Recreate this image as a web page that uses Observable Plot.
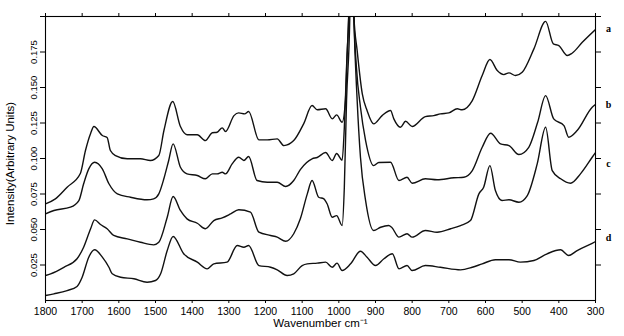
<!DOCTYPE html>
<html>
<head>
<meta charset="utf-8">
<script src="https://cdn.jsdelivr.net/npm/d3@7"></script>
<script src="https://cdn.jsdelivr.net/npm/@observablehq/plot@0.6"></script>
<style>
  html, body { margin: 0; padding: 0; background: #fff; }
  #chart { width: 624px; height: 336px; }
</style>
</head>
<body>
<div id="chart"></div>
<script>
// Spectra: [wavenumber (cm^-1), intensity]
const seriesA = [[1800,0.0681],[1773,0.0716],[1741,0.0798],[1705,0.0894],[1691,0.1056],[1677,0.1176],[1668,0.1225],[1645,0.1162],[1632,0.1148],[1623,0.1056],[1609,0.1021],[1577,0.0998],[1541,0.0998],[1514,0.0986],[1491,0.1021],[1477,0.1197],[1453,0.1401],[1432,0.1225],[1414,0.1167],[1386,0.1167],[1364,0.1126],[1345,0.1181],[1332,0.1185],[1318,0.1216],[1309,0.1190],[1286,0.1302],[1273,0.1321],[1257,0.1314],[1246,0.1331],[1218,0.1131],[1195,0.1131],[1168,0.1138],[1150,0.1091],[1123,0.1126],[1096,0.1244],[1073,0.1373],[1059,0.1343],[1036,0.1350],[1018,0.1279],[1006,0.1307],[991,0.1255],[982,0.1408],[977,0.1760],[973,0.2006],[966,0.30],[959,0.2006],[950,0.1760],[936,0.1455],[923,0.1338],[905,0.1244],[882,0.1302],[859,0.1338],[850,0.1279],[832,0.1220],[818,0.1262],[800,0.1225],[764,0.1295],[741,0.1302],[723,0.1314],[700,0.1321],[677,0.1350],[664,0.1343],[636,0.1408],[609,0.1584],[588,0.1697],[568,0.1619],[550,0.1591],[536,0.1603],[518,0.1584],[500,0.1607],[468,0.1772],[436,0.1966],[415,0.1807],[400,0.1795],[377,0.1725],[364,0.1741],[336,0.1818],[300,0.1908]];
const seriesB = [[1800,0.0610],[1777,0.0634],[1732,0.0657],[1709,0.0704],[1696,0.0822],[1682,0.0927],[1666,0.0974],[1645,0.0927],[1627,0.0822],[1604,0.0751],[1568,0.0727],[1523,0.0709],[1505,0.0716],[1491,0.0751],[1477,0.0859],[1464,0.0986],[1452,0.1103],[1432,0.0938],[1414,0.0892],[1386,0.0880],[1364,0.0857],[1345,0.0892],[1332,0.0892],[1318,0.0903],[1309,0.0892],[1291,0.0962],[1273,0.1009],[1259,0.0986],[1246,0.1014],[1223,0.0845],[1195,0.0833],[1168,0.0833],[1145,0.0803],[1123,0.0845],[1105,0.0922],[1073,0.0998],[1059,0.1007],[1036,0.1042],[1018,0.0986],[1006,0.1035],[991,0.0989],[985,0.1220],[979,0.1642],[973,0.2006],[966,0.30],[959,0.2006],[952,0.1642],[941,0.1361],[927,0.1126],[905,0.0950],[891,0.0972],[859,0.0974],[836,0.0845],[814,0.0868],[800,0.0826],[764,0.0857],[732,0.0850],[686,0.0864],[659,0.0868],[636,0.0915],[609,0.1079],[586,0.1178],[559,0.1103],[536,0.1091],[509,0.1028],[482,0.1079],[458,0.1253],[436,0.1443],[414,0.1279],[386,0.1232],[373,0.1150],[350,0.1197],[309,0.1361],[300,0.1380]];
const seriesC = [[1800,0.0176],[1786,0.0188],[1750,0.0234],[1714,0.0294],[1696,0.0375],[1677,0.0505],[1666,0.0568],[1650,0.0535],[1632,0.0505],[1614,0.0458],[1577,0.0434],[1541,0.0410],[1505,0.0392],[1491,0.0410],[1468,0.0586],[1452,0.0732],[1432,0.0634],[1414,0.0575],[1386,0.0544],[1364,0.0505],[1341,0.0563],[1318,0.0582],[1295,0.0610],[1273,0.0639],[1241,0.0622],[1218,0.0481],[1186,0.0458],[1168,0.0446],[1145,0.0417],[1123,0.0470],[1105,0.0575],[1086,0.0751],[1073,0.0845],[1055,0.0727],[1041,0.0716],[1032,0.0681],[1018,0.0586],[1006,0.0598],[991,0.0528],[985,0.0798],[979,0.1408],[970,0.2006],[966,0.30],[959,0.2006],[950,0.1408],[941,0.1009],[927,0.0704],[905,0.0493],[886,0.0516],[864,0.0528],[856,0.0516],[836,0.0446],[814,0.0470],[800,0.0446],[764,0.0493],[732,0.0481],[695,0.0505],[668,0.0528],[641,0.0563],[618,0.0751],[605,0.0798],[588,0.0950],[573,0.0774],[555,0.0704],[536,0.0709],[509,0.0692],[486,0.0739],[459,0.0962],[436,0.1220],[418,0.0915],[395,0.0857],[368,0.0826],[341,0.0892],[309,0.1009],[300,0.1042]];
const seriesD = [[1800,0.0035],[1777,0.0047],[1741,0.0070],[1714,0.0099],[1700,0.0164],[1682,0.0305],[1666,0.0357],[1645,0.0305],[1627,0.0234],[1618,0.0188],[1595,0.0164],[1559,0.0153],[1523,0.0129],[1500,0.0141],[1486,0.0188],[1468,0.0352],[1452,0.0451],[1423,0.0329],[1386,0.0270],[1359,0.0223],[1341,0.0258],[1305,0.0270],[1277,0.0387],[1259,0.0375],[1246,0.0387],[1218,0.0246],[1186,0.0234],[1168,0.0216],[1141,0.0176],[1123,0.0188],[1100,0.0246],[1086,0.0258],[1059,0.0263],[1036,0.0270],[1018,0.0234],[1005,0.0263],[991,0.0211],[968,0.0258],[941,0.0347],[923,0.0305],[900,0.0246],[877,0.0294],[854,0.0329],[836,0.0223],[814,0.0246],[800,0.0211],[764,0.0246],[723,0.0234],[668,0.0216],[636,0.0234],[609,0.0258],[573,0.0287],[536,0.0287],[505,0.0270],[468,0.0282],[432,0.0329],[395,0.0357],[373,0.0317],[350,0.0352],[309,0.0403],[300,0.0415]];

const seriesNames = ["a", "b", "c", "d"];
const labelIntensity = [0.191, 0.138, 0.096, 0.044];
const xTicks = [1800,1700,1600,1500,1400,1300,1200,1100,1000,900,800,700,600,500,400,300];
const yTickLabels = [0.025,0.050,0.075,0.100,0.125,0.150,0.175];
const yTicksAll = [0.025,0.050,0.075,0.100,0.125,0.150,0.175,0.200];
const xTitle = "Wavenumber cm\u207B\u00B9";
const yTitle = "Intensity(Arbitrary Units)";

const allSeries = [seriesA, seriesB, seriesC, seriesD];
const rows = allSeries.flatMap((s, i) => s.map(([wn, v]) => ({series: seriesNames[i], wn, v})));
const labels = seriesNames.map((n, i) => ({name: n, wn: 300, v: labelIntensity[i]}));

const chart = Plot.plot({
  width: 624,
  height: 336,
  marginLeft: 45,
  marginRight: 29,
  marginTop: 16,
  marginBottom: 36,
  style: {fontFamily: "Liberation Sans, Arial, sans-serif", fontSize: "10px", background: "#fff", color: "#000", overflow: "visible"},
  x: {domain: [1800, 300], label: null},
  y: {domain: [0, 0.2], label: null},
  marks: [
    Plot.line(rows, {x: "wn", y: "v", z: "series", stroke: "#111", strokeWidth: 1.4, curve: "monotone-x", clip: true}),
    Plot.frame({stroke: "#000", strokeWidth: 1.1}),
    Plot.axisX({anchor: "bottom", ticks: xTicks, tickSize: 3, tickPadding: 4, tickFormat: d => String(d), fontSize: 10.5, label: null}),
    Plot.axisX({anchor: "top", ticks: xTicks, tickSize: 4, tickFormat: () => "", label: null}),
    Plot.axisY({anchor: "left", ticks: yTicksAll, tickSize: 5, tickFormat: () => "", label: null}),
    Plot.axisY({anchor: "left", ticks: yTickLabels, tickSize: 0, tickPadding: 9, tickRotate: -90, tickFormat: d3.format(".3f"), fontSize: 9.5, label: null}),
    Plot.axisY({anchor: "right", ticks: yTicksAll, tickSize: 5, tickFormat: () => "", label: null}),
    Plot.text([xTitle], {frameAnchor: "bottom", dy: 26, text: d => d, fontSize: 11.5}),
    Plot.text([yTitle], {frameAnchor: "left", textAnchor: "middle", dx: -35, dy: 5, rotate: -90, text: d => d, fontSize: 11.5}),
    Plot.text(labels, {x: "wn", y: "v", text: "name", dx: 13, fontFamily: "Liberation Serif, serif", fontWeight: "bold", fontSize: 10})
  ]
});
document.getElementById("chart").appendChild(chart);
</script>
</body>
</html>
